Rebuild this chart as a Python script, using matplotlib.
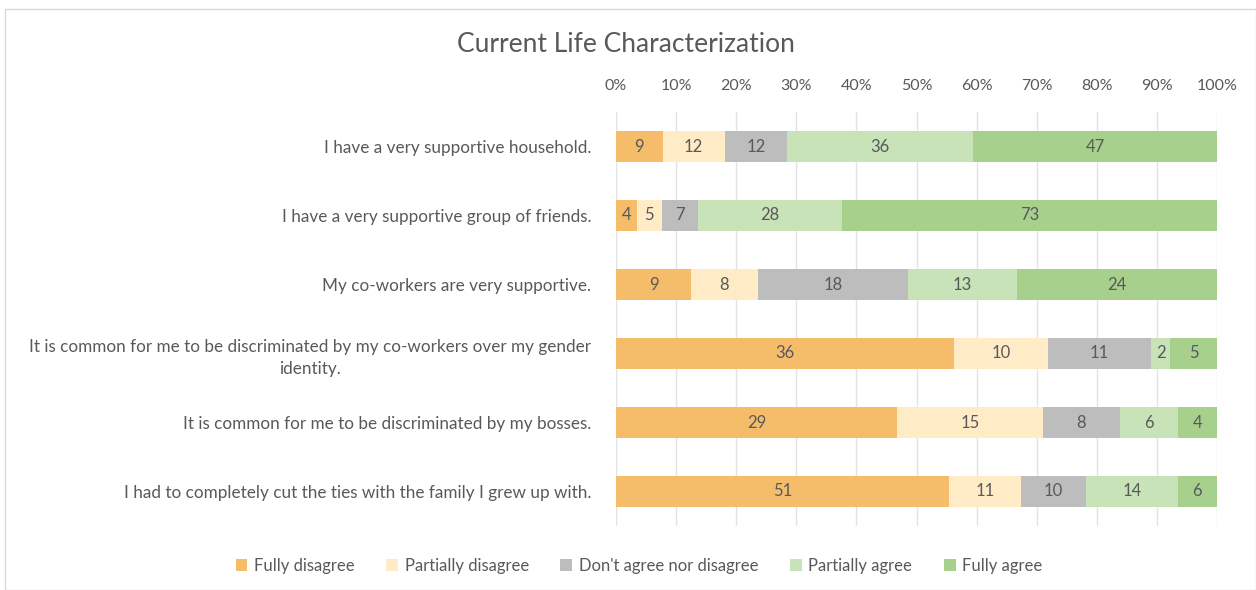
import matplotlib
matplotlib.use("Agg")
import matplotlib.pyplot as plt
from matplotlib.patches import Rectangle
import numpy as np

plt.rcParams['font.family'] = ['Lato', 'DejaVu Sans']

statements = [
    "I have a very supportive household.",
    "I have a very supportive group of friends.",
    "My co-workers are very supportive.",
    "It is common for me to be discriminated by my co-workers over my gender\nidentity.",
    "It is common for me to be discriminated by my bosses.",
    "I had to completely cut the ties with the family I grew up with.",
]
responses = ["Fully disagree", "Partially disagree", "Don't agree nor disagree",
             "Partially agree", "Fully agree"]

fully_disagree = [9, 4, 9, 36, 29, 51]
partially_disagree = [12, 5, 8, 10, 15, 11]
neutral = [12, 7, 18, 11, 8, 10]
partially_agree = [36, 28, 13, 2, 6, 14]
fully_agree = [47, 73, 24, 5, 4, 6]

colors = ["#F5BD6A", "#FFEBC6", "#BDBDBD", "#C8E3B8", "#A8D08D"]
text_color = "#595959"

counts = np.array([fully_disagree, partially_disagree, neutral,
                   partially_agree, fully_agree], dtype=float)
totals = counts.sum(axis=0)
shares = counts / totals * 100

fig = plt.figure(figsize=(12.56, 5.90), dpi=100)
fig.patches.append(Rectangle((0.004, 0.0), 0.996, 0.985, transform=fig.transFigure,
                             fill=False, edgecolor="#D9D9D9", linewidth=1.0))
ax = fig.add_axes([616 / 1256, 1 - 526 / 590, 601 / 1256, (526 - 112) / 590])

y = np.arange(len(statements))
left = np.zeros(len(statements))
for k in range(len(responses)):
    ax.barh(y, shares[k], left=left, height=0.44, color=colors[k],
            label=responses[k], zorder=2)
    for i in range(len(statements)):
        ax.text(left[i] + shares[k, i] / 2, y[i], f"{int(counts[k, i])}",
                ha="center", va="center", fontsize=12, color=text_color, zorder=3)
    left += shares[k]

ax.set_xlim(0, 100)
ax.set_ylim(len(statements) - 0.5, -0.5)
ax.set_xticks(np.arange(0, 101, 10))
ax.set_xticklabels([f"{v}%" for v in range(0, 101, 10)])
ax.xaxis.tick_top()
ax.tick_params(axis="x", length=0, pad=14, labelsize=11.5, labelcolor=text_color)
ax.set_yticks(y)
ax.set_yticklabels(statements, fontsize=12.3, color=text_color,
                   multialignment="center", linespacing=1.45)
ax.tick_params(axis="y", length=0, pad=18)
ax.grid(axis="x", color="#E3E3E3", linewidth=1, zorder=0)
for s in ax.spines.values():
    s.set_visible(False)

fig.text(626 / 1256, 1 - 45 / 590, "Current Life Characterization", ha="center",
         va="center", fontsize=19, color=text_color)

handles, labels = ax.get_legend_handles_labels()
fig.legend(handles, labels, loc="center", bbox_to_anchor=(639 / 1256, 1 - 566 / 590),
           ncol=5, frameon=False, fontsize=12, labelcolor=text_color,
           handlelength=0.7, handleheight=0.7, handletextpad=0.4, columnspacing=1.9)

fig.savefig("out.png", dpi=100, facecolor="white")
